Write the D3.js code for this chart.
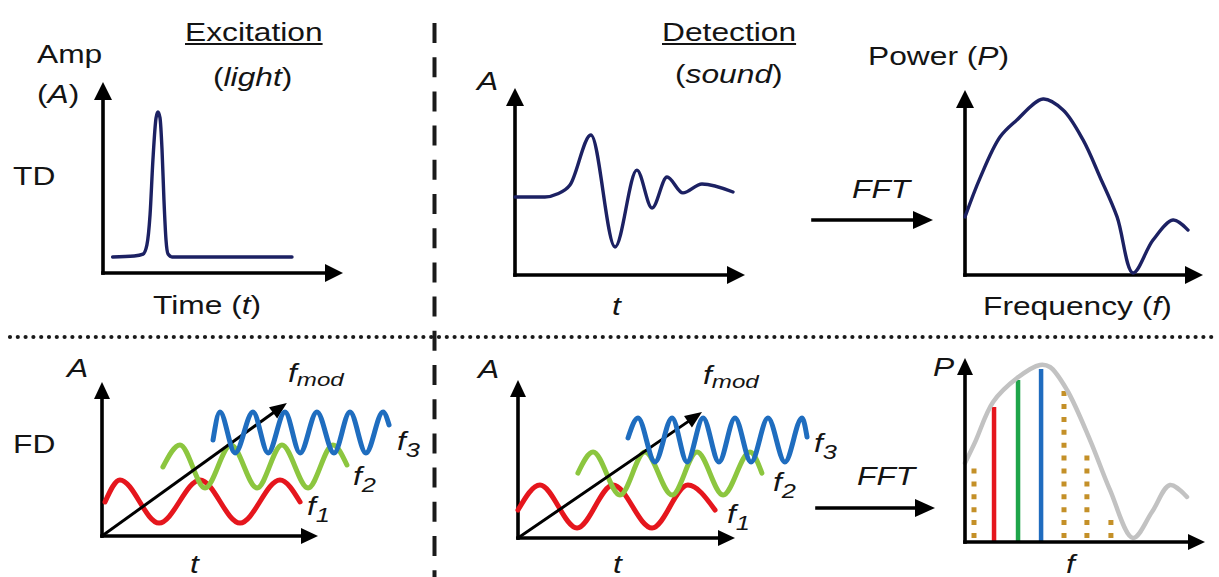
<!DOCTYPE html>
<html><head><meta charset="utf-8">
<script src="https://cdn.jsdelivr.net/npm/d3@7"></script>
<style>html,body{margin:0;padding:0;background:#fff;overflow:hidden}svg{display:block}</style>
</head><body>
<svg id="chart" width="1219" height="577"></svg>
<script>
// ================= DATA (arbitrary units, 0-100 per panel axis) =================
// Time domain: excitation light pulse
const exTime = [4, 13, 16.7, 18.3, 19.6, 20.8, 22.1, 22.9, 23.75, 24.6, 25.4, 26.25, 27.1, 28.75, 78.75];
const exAmp  = [8.4, 8.9, 9.9, 14.7, 30.4, 59.2, 81.2, 84.3, 81.2, 64.4, 38.2, 17.3, 9.9, 8.4, 8.4];
// Time domain: detected sound signal
const detTime = [0, 13, 18.3, 23.9, 33, 43.5, 53, 59.6, 66.1, 73, 81.3, 94.8];
const detAmp  = [41.7, 41.7, 43.3, 48.1, 74.9, 15, 56.1, 35.8, 52.4, 43.9, 48.7, 44.4];
// Time domain: power spectrum after FFT
const tdFreq = [0, 6.3, 14.7, 21.8, 32.8, 41.2, 49.6, 56.7, 63.9, 70.6, 79, 87.4, 93.7];
const tdPow  = [31.4, 52.4, 74.6, 83.8, 95.1, 89.2, 73, 53, 31.4, 1.1, 18.9, 29.7, 24.3];

// Frequency domain: excitation modulated waves (extrema points)
const exF1Time = [1.4, 8.3, 26.4, 45.4, 63.9, 82.4, 91.7];
const exF1Amp  = [22.1, 36.4, 8.4, 36.4, 8.4, 36.4, 22.1];
const exF2Time = [28.2, 36.1, 47.7, 59.7, 71.8, 83.3, 95.4, 106.9, 113.4];
const exF2Amp  = [44.8, 59.1, 31.2, 59.1, 31.2, 59.1, 31.2, 59.1, 46.1];
const exF3Time = [51.4, 54.6, 61.6, 69.9, 76.9, 84.7, 91.7, 99.5, 107.4, 114.8, 122.2, 130.1, 132.9];
const exF3Amp  = [62.3, 80.5, 53.9, 80.5, 53.9, 80.5, 53.9, 80.5, 53.9, 80.5, 53.9, 80.5, 72.1];
const exModTip = [85.6, 86.4];

// Frequency domain: detected waves
const dtF1Time = [0, 10.1, 27.2, 43.8, 61.8, 78.3, 90.8];
const dtF1Amp  = [17.7, 33.5, 6.3, 33.5, 6.3, 33.5, 17.7];
const dtF2Time = [27.6, 34.6, 47, 58.5, 71, 82.5, 94.5, 106.9, 112.4];
const dtF2Amp  = [41.1, 54.4, 27.2, 54.4, 27.2, 54.4, 27.2, 54.4, 41.1];
const dtF3Time = [50.7, 55.3, 63.1, 71, 77.9, 85.3, 92.6, 100, 107.4, 115.2, 123, 130.9, 133.2];
const dtF3Amp  = [63.3, 75.9, 48.1, 75.9, 48.1, 75.9, 48.1, 75.9, 48.1, 75.9, 48.1, 75.9, 63.9];
const dtModTip = [84.8, 79.7];

// Frequency domain: spectrum envelope and lines
const fdFreq = [0, 4.2, 11.7, 21.7, 31.25, 35.4, 42.5, 52.1, 60.4, 70, 77.9, 85.4, 92.5];
const fdPow  = [42.9, 54.3, 76.1, 89.1, 96.2, 95.1, 82.6, 55.4, 28.3, 2.2, 16.3, 31, 24.5];
const modNames = ["f1", "f2", "f3"];
const modFreq  = [12.1, 22.1, 31.7];
const modPow   = [73.4, 88, 94];
const harmFreq = [3.75, 41.25, 50.8, 60.8];
const harmPow  = [41.3, 82.6, 47.3, 12];

// ================= LAYOUT / STYLE =================
const SX = 1.27;          // horizontal stretch of the original figure
const FONT = "'Liberation Sans', Arial, Helvetica, sans-serif";
const TXT = "#141414";
const NAVY = "#1c2163";
const waveColor = {f1: "#e5161d", f2: "#8cc63f", f3: "#1f6dbf"};
const barColor  = {f1: "#e5161d", f2: "#1ea54a", f3: "#1f6cbf"};
const GOLD = "#c49028";
const GRAY = "#c2c2c2";

const svg = d3.select("#chart");

const panels = {
  exTD:   {ox: 103, oy: 273, tx: 343, ty: 82,  head: 18, hw: 18},
  detTD:  {ox: 515, oy: 275, tx: 745, ty: 88,  head: 18, hw: 18},
  specTD: {ox: 965, oy: 275, tx: 1203, ty: 90, head: 18, hw: 18},
  exFD:   {ox: 102, oy: 536, tx: 318, ty: 382, head: 17, hw: 16},
  detFD:  {ox: 518, oy: 538, tx: 735, ty: 380, head: 17, hw: 16},
  specFD: {ox: 965, oy: 542, tx: 1205, ty: 358, head: 17, hw: 16}
};
for (const k in panels) {
  const p = panels[k];
  p.x = d3.scaleLinear().domain([0, 100]).range([p.ox, p.tx]);
  p.y = d3.scaleLinear().domain([0, 100]).range([p.oy, p.ty]);
}

function arrow(g, x1, y1, x2, y2, head, hw, w, color) {
  color = color || "#000";
  const dx = x2 - x1, dy = y2 - y1, L = Math.hypot(dx, dy), ux = dx / L, uy = dy / L;
  const bx = x2 - ux * head, by = y2 - uy * head;
  g.append("line").attr("x1", x1).attr("y1", y1)
    .attr("x2", bx + ux * 3).attr("y2", by + uy * 3)
    .attr("stroke", color).attr("stroke-width", w).attr("stroke-linecap", "square");
  g.append("path")
    .attr("d", `M${x2},${y2}L${bx - uy * hw / 2},${by + ux * hw / 2}L${bx + uy * hw / 2},${by - ux * hw / 2}Z`)
    .attr("fill", color);
}

function axes(p) {
  const g = svg.append("g");
  arrow(g, p.x(0), p.y(0), p.x(0), p.y(100), p.head, p.hw, 3.6);
  arrow(g, p.x(0), p.y(0), p.x(100), p.y(0), p.head, p.hw, 3.6);
}

function label(x, y, parts, size) {
  const t = svg.append("text")
    .attr("transform", `translate(${x},${y}) scale(${SX},1)`)
    .attr("font-family", FONT).attr("font-size", size || 25).attr("fill", TXT);
  parts.forEach(p => {
    if (typeof p === "string") p = {t: p};
    const ts = t.append("tspan").text(p.t);
    if (p.i) ts.attr("font-style", "italic");
    if (p.size) ts.attr("font-size", p.size);
    if (p.dy) ts.attr("dy", p.dy);
  });
  return t;
}
function underline(t, x, y) {
  const len = t.node().getComputedTextLength() * SX;
  svg.append("line").attr("x1", x).attr("x2", x + len).attr("y1", y).attr("y2", y)
    .attr("stroke", TXT).attr("stroke-width", 2);
}

function curve(p, xs, ys, color, w, smooth) {
  const pts = xs.map((v, i) => [v, ys[i]]);
  const c = smooth ? d3.curveCatmullRom.alpha(0.5) : d3.curveMonotoneX;
  svg.append("path")
    .attr("d", d3.line().x(d => p.x(d[0])).y(d => p.y(d[1])).curve(c)(pts))
    .attr("fill", "none").attr("stroke", color).attr("stroke-width", w)
    .attr("stroke-linecap", "round").attr("stroke-linejoin", "round");
}

// ================= SEPARATORS =================
svg.append("line").attr("x1", 434.5).attr("x2", 434.5).attr("y1", 23).attr("y2", 577)
  .attr("stroke", "#1a1a1a").attr("stroke-width", 4).attr("stroke-dasharray", "20 14.2");
svg.append("line").attr("x1", 10).attr("x2", 1219).attr("y1", 337).attr("y2", 337)
  .attr("stroke", "#1a1a1a").attr("stroke-width", 4.2).attr("stroke-linecap", "round")
  .attr("stroke-dasharray", "0 7.8");

// ================= TOP ROW (TD) =================
// Excitation
let P = panels.exTD;
axes(P);
curve(P, exTime, exAmp, NAVY, 3.4);
label(37, 63, ["Amp"]);
label(37, 103, ["(", {t: "A", i: true}, ")"]);
label(13, 185, ["TD"]);
underline(label(185, 41, ["Excitation"]), 185, 44);
label(213, 86, ["(", {t: "light", i: true}, ")"]);
label(153, 314, ["Time (", {t: "t", i: true}, ")"]);

// Detection
P = panels.detTD;
axes(P);
curve(P, detTime, detAmp, NAVY, 3.4);
label(477, 90, [{t: "A", i: true}]);
underline(label(662, 41, ["Detection"]), 662, 44);
label(675, 83, ["(", {t: "sound", i: true}, ")"]);
label(612, 315, [{t: "t", i: true}]);

// FFT arrow + spectrum
arrow(svg.append("g"), 813, 220, 933, 220, 20, 18, 3.6);
label(852, 198, [{t: "FFT", i: true}]);
P = panels.specTD;
axes(P);
curve(P, tdFreq, tdPow, NAVY, 3.4, true);
label(868, 65, ["Power (", {t: "P", i: true}, ")"]);
label(983, 315, ["Frequency (", {t: "f", i: true}, ")"]);

// ================= BOTTOM ROW (FD) =================
// Excitation
P = panels.exFD;
axes(P);
curve(P, exF1Time, exF1Amp, waveColor.f1, 5);
curve(P, exF2Time, exF2Amp, waveColor.f2, 5);
arrow(svg.append("g"), P.x(0), P.y(0), P.x(exModTip[0]), P.y(exModTip[1]), 17, 14, 3);
curve(P, exF3Time, exF3Amp, waveColor.f3, 5);
label(67, 377, [{t: "A", i: true}]);
label(13, 453, ["FD"]);
label(288, 382, [{t: "f", i: true}, {t: "mod", i: true, size: 19, dy: 4}]);
label(307, 515, [{t: "f", i: true}, {t: "1", i: true, size: 20, dy: 7}]);
label(353, 485, [{t: "f", i: true}, {t: "2", i: true, size: 20, dy: 7}]);
label(397, 450, [{t: "f", i: true}, {t: "3", i: true, size: 20, dy: 7}]);
label(190, 573, [{t: "t", i: true}]);

// Detection
P = panels.detFD;
axes(P);
curve(P, dtF1Time, dtF1Amp, waveColor.f1, 5);
curve(P, dtF2Time, dtF2Amp, waveColor.f2, 5);
arrow(svg.append("g"), P.x(0), P.y(0), P.x(dtModTip[0]), P.y(dtModTip[1]), 17, 14, 3);
curve(P, dtF3Time, dtF3Amp, waveColor.f3, 5);
label(478, 378, [{t: "A", i: true}]);
label(703, 384, [{t: "f", i: true}, {t: "mod", i: true, size: 19, dy: 4}]);
label(727, 523, [{t: "f", i: true}, {t: "1", i: true, size: 20, dy: 7}]);
label(773, 491, [{t: "f", i: true}, {t: "2", i: true, size: 20, dy: 7}]);
label(814, 452, [{t: "f", i: true}, {t: "3", i: true, size: 20, dy: 7}]);
label(613, 573, [{t: "t", i: true}]);

// FFT arrow + line spectrum
arrow(svg.append("g"), 817, 508, 935, 508, 20, 18, 3.6);
label(857, 485, [{t: "FFT", i: true}]);
P = panels.specFD;
harmFreq.forEach((f, i) => {
  svg.append("line").attr("x1", P.x(f)).attr("x2", P.x(f))
    .attr("y1", P.y(0) - 4).attr("y2", P.y(harmPow[i]))
    .attr("stroke", GOLD).attr("stroke-width", 5).attr("stroke-dasharray", "5 7.9");
});
modFreq.forEach((f, i) => {
  svg.append("line").attr("x1", P.x(f)).attr("x2", P.x(f))
    .attr("y1", P.y(0)).attr("y2", P.y(modPow[i]))
    .attr("stroke", barColor[modNames[i]]).attr("stroke-width", 4.5);
});
curve(P, fdFreq, fdPow, GRAY, 4.5, true);
axes(P);
label(933, 376, [{t: "P", i: true}]);
label(1066, 573, [{t: "f", i: true}]);
</script>
</body></html>
